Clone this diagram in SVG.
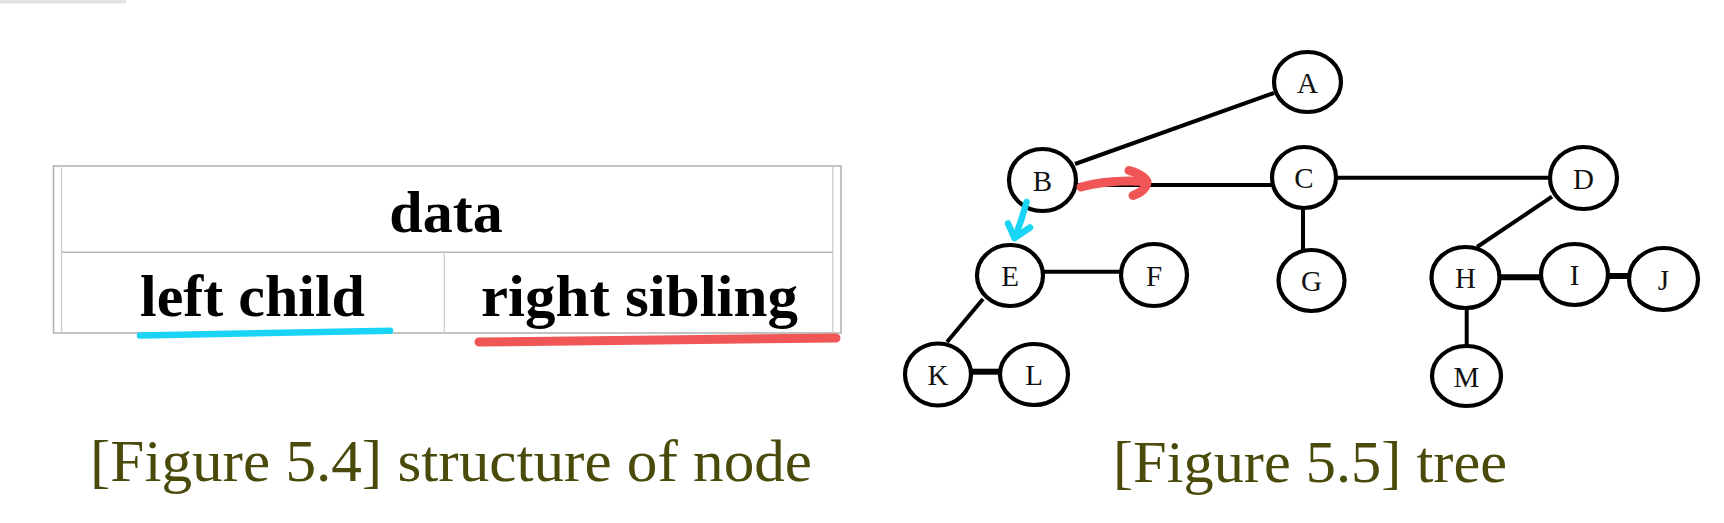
<svg xmlns="http://www.w3.org/2000/svg" width="1724" height="523" viewBox="0 0 1724 523">
<style>
.cell{fill:none;stroke:#b4b4b4;stroke-width:1.6}
.cell2{fill:none;stroke:#d0d0d0;stroke-width:1.4}
.field{font-family:"Liberation Serif","Times New Roman",serif;font-weight:bold;font-size:60px;fill:#000;text-anchor:middle}
.cap{font-family:"Liberation Serif","Times New Roman",serif;font-size:60px;fill:#4a4a0a}
.node ellipse{fill:#fff;stroke:#000;stroke-width:4.2}
.node text{font-family:"Liberation Serif","Times New Roman",serif;font-size:29px;fill:#111;text-anchor:middle}
.edge{stroke:#000;stroke-width:4;fill:none}
.thick{stroke-width:6}
.red{stroke:#f05656;stroke-width:9;fill:none;stroke-linecap:round;stroke-linejoin:round}
.blue{stroke:#1ad4f6;stroke-width:6.5;fill:none;stroke-linecap:round;stroke-linejoin:round}
</style>
<rect x="0" y="0" width="126" height="3.5" fill="#e2e2e2"/>
<g id="node-structure">
<rect class="cell" x="53.5" y="166" width="787.5" height="167"/>
<line class="cell2" x1="61.5" y1="166" x2="61.5" y2="333"/>
<line class="cell2" x1="832.8" y1="166" x2="832.8" y2="333"/>
<line class="cell" x1="61.5" y1="252.3" x2="832.8" y2="252.3"/>
<line class="cell2" x1="444.3" y1="252.3" x2="444.3" y2="333"/>
<text class="field" x="446" y="231.7">data</text>
<text class="field" x="252.5" y="315.7">left child</text>
<text class="field" x="639.5" y="315.7" textLength="317" lengthAdjust="spacingAndGlyphs">right sibling</text>
<path class="blue" d="M140,335.5 C210,333.5 300,332.5 390,330.8" stroke-width="7"/>
<path class="red" d="M479,342 C600,340.5 720,339 836,338" stroke-width="7"/>
</g>
<text class="cap" x="90" y="481" textLength="722" lengthAdjust="spacingAndGlyphs">[Figure 5.4] structure of node</text>
<g id="connectors">
<line class="edge" x1="1075" y1="164" x2="1274" y2="93" stroke-width="3.6"/>
<line class="edge" x1="1076" y1="185" x2="1271" y2="185"/>
<line class="edge" x1="1336" y1="177.7" x2="1550" y2="177.7"/>
<line class="edge" x1="1303" y1="208" x2="1303" y2="250"/>
<line class="edge" x1="1552" y1="196.7" x2="1477" y2="247"/>
<line class="edge" x1="1043" y1="271.7" x2="1121" y2="271.7"/>
<line class="edge" x1="983" y1="299" x2="947" y2="342"/>
<line class="edge thick" x1="971" y1="371.7" x2="1000" y2="371.7"/>
<line class="edge thick" x1="1500" y1="277.3" x2="1541" y2="277.3"/>
<line class="edge thick" x1="1608" y1="276" x2="1629" y2="276"/>
<line class="edge" x1="1466.7" y1="308" x2="1466.7" y2="346" stroke-width="5"/>
</g>
<g id="node-A" class="node"><ellipse cx="1307.5" cy="82" rx="33.5" ry="30"/><text x="1307.5" y="93">A</text></g>
<g id="node-B" class="node"><ellipse cx="1042.5" cy="180" rx="33.5" ry="31"/><text x="1042.5" y="190.5">B</text></g>
<g id="node-C" class="node"><ellipse cx="1304" cy="177.5" rx="32" ry="30.5"/><text x="1304" y="188">C</text></g>
<g id="node-D" class="node"><ellipse cx="1583.5" cy="178" rx="33.5" ry="31"/><text x="1583.5" y="188.5">D</text></g>
<g id="node-E" class="node"><ellipse cx="1010" cy="275.5" rx="33" ry="30.5"/><text x="1010" y="286">E</text></g>
<g id="node-F" class="node"><ellipse cx="1154" cy="275" rx="33" ry="31"/><text x="1154" y="285.5">F</text></g>
<g id="node-G" class="node"><ellipse cx="1311.5" cy="280.5" rx="33" ry="30.5"/><text x="1311.5" y="291">G</text></g>
<g id="node-H" class="node"><ellipse cx="1465.5" cy="277.5" rx="34" ry="30.5"/><text x="1465.5" y="288">H</text></g>
<g id="node-I" class="node"><ellipse cx="1574.5" cy="274.5" rx="33.5" ry="30.5"/><text x="1574.5" y="285">I</text></g>
<g id="node-J" class="node"><ellipse cx="1663.5" cy="279" rx="34.5" ry="31"/><text x="1663.5" y="289.5">J</text></g>
<g id="node-K" class="node"><ellipse cx="938" cy="374.5" rx="33" ry="31"/><text x="938" y="385">K</text></g>
<g id="node-L" class="node"><ellipse cx="1034" cy="374.5" rx="34" ry="30.5"/><text x="1034" y="385">L</text></g>
<g id="node-M" class="node"><ellipse cx="1466.5" cy="376" rx="34.5" ry="30"/><text x="1466.5" y="386.5">M</text></g>
<g id="highlights">
<path class="red" d="M1081,187 Q1108,179.5 1145,181.5"/>
<path class="red" d="M1129,170.5 Q1145,175 1147,182 Q1146,191 1133,195.5"/>
<path class="blue" d="M1026.5,202 Q1022,220 1014.5,238"/>
<path class="blue" d="M1008,223.5 L1014.5,238 L1030,227.5"/>
</g>
<text class="cap" x="1113" y="481.7" textLength="394" lengthAdjust="spacingAndGlyphs">[Figure 5.5] tree</text>
</svg>
